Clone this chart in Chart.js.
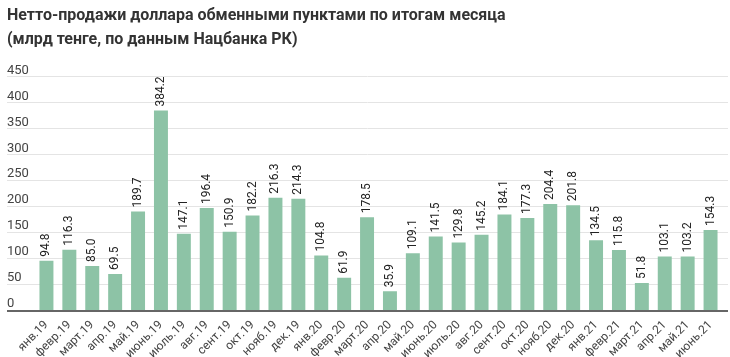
<!DOCTYPE html>
<html>
<head>
<meta charset="utf-8">
<script src="https://cdn.jsdelivr.net/npm/chart.js@4/dist/chart.umd.min.js"></script>
<style>
  html, body { margin: 0; padding: 0; background: #fff; }
  #wrap { width: 730px; height: 357px; position: relative; }
</style>
</head>
<body>
<div id="wrap"><canvas id="c"></canvas></div>
<script>
const titleLines = [
  "Нетто-продажи доллара обменными пунктами по итогам месяца",
  "(млрд тенге, по данным Нацбанка РК)"
];
const categories = [
  "янв.19","февр.19","март.19","апр.19","май.19","июнь.19","июль.19","авг.19","сент.19","окт.19","нояб.19","дек.19",
  "янв.20","февр.20","март.20","апр.20","май.20","июнь.20","июль.20","авг.20","сент.20","окт.20","нояб.20","дек.20",
  "янв.21","февр.21","март.21","апр.21","май.21","июнь.21"
];
const netSales = [
  94.8, 116.3, 85.0, 69.5, 189.7, 384.2, 147.1, 196.4, 150.9, 182.2, 216.3, 214.3,
  104.8, 61.9, 178.5, 35.9, 109.1, 141.5, 129.8, 145.2, 184.1, 177.3, 204.4, 201.8,
  134.5, 115.8, 51.8, 103.1, 103.2, 154.3
];
const yTicks = [0, 50, 100, 150, 200, 250, 300, 350, 400, 450];

const FONT = "Roboto, 'Noto Sans', sans-serif";

const gridPlugin = {
  id: 'fullGrid',
  beforeDatasetsDraw(chart) {
    const ctx = chart.ctx;
    const y = chart.scales.y;
    ctx.save();
    yTicks.forEach(v => {
      const py = Math.round(y.getPixelForValue(v));
      if (v === 0) return;
      ctx.strokeStyle = '#e4e4e4';
      ctx.lineWidth = 1;
      ctx.beginPath();
      ctx.moveTo(7, py + 0.5);
      ctx.lineTo(728, py + 0.5);
      ctx.stroke();
    });
    ctx.restore();
  },
  afterDatasetsDraw(chart) {
    const ctx = chart.ctx;
    const y = chart.scales.y;
    const py = Math.round(y.getPixelForValue(0));
    ctx.save();
    ctx.strokeStyle = '#666';
    ctx.lineWidth = 2;
    ctx.beginPath();
    ctx.moveTo(7, py + 1);
    ctx.lineTo(728, py + 1);
    ctx.stroke();
    ctx.restore();
  }
};

const valueLabels = {
  id: 'valueLabels',
  afterDatasetsDraw(chart) {
    const ctx = chart.ctx;
    const meta = chart.getDatasetMeta(0);
    const data = chart.data.datasets[0].data;
    ctx.save();
    ctx.fillStyle = '#222';
    ctx.font = "12px " + FONT;
    ctx.textAlign = 'left';
    ctx.textBaseline = 'middle';
    meta.data.forEach((bar, i) => {
      ctx.save();
      ctx.translate(bar.x, bar.y - 4);
      ctx.rotate(-Math.PI / 2);
      ctx.fillText(data[i].toFixed(1), 0, 0);
      ctx.restore();
    });
    ctx.restore();
  }
};

new Chart(document.getElementById('c'), {
  type: 'bar',
  data: {
    labels: categories,
    datasets: [{
      data: netSales,
      backgroundColor: '#8dc3a6',
      borderWidth: 0,
      categoryPercentage: 1,
      barPercentage: 0.61
    }]
  },
  plugins: [gridPlugin, valueLabels],
  options: {
    responsive: true,
    maintainAspectRatio: false,
    animation: false,
    layout: { padding: { left: 7, right: 8, top: 0, bottom: 0 } },
    plugins: {
      legend: { display: false },
      tooltip: { enabled: false },
      title: {
        display: true,
        text: titleLines,
        align: 'start',
        color: '#333',
        font: { family: FONT, size: 16, weight: 'bold', lineHeight: 1.5 },
        padding: { top: 4, bottom: 24.4 }
      }
    },
    scales: {
      x: {
        grid: { display: false },
        border: { display: false },
        ticks: {
          color: '#444',
          font: { family: FONT, size: 12 },
          minRotation: 45,
          maxRotation: 45,
          autoSkip: false,
          padding: 0
        },
        afterFit(scale) { scale.height = 47; }
      },
      y: {
        min: 0,
        max: 450,
        grid: { display: false, drawTicks: false },
        border: { display: false },
        afterBuildTicks(scale) { scale.ticks = yTicks.map(v => ({ value: v })); },
        ticks: {
          color: '#444',
          font: { family: FONT, size: 13 },
          crossAlign: 'far',
          labelOffset: -6
        },
        afterFit(scale) { scale.width = 28; }
      }
    }
  }
});
</script>
</body>
</html>
